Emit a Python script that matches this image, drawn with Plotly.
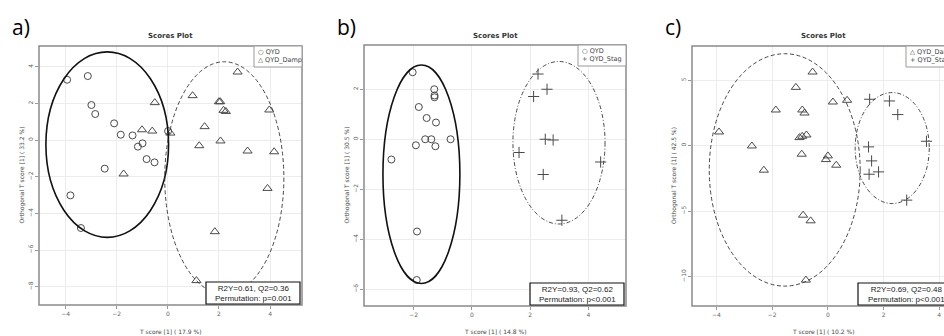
import plotly.graph_objects as go

W, H = 944, 336

# ---------------- panel a: QYD vs QYD_Damp ----------------
a_qyd_x = [-3.94, -3.13, -2.99, -2.84, -2.10, -1.84, -1.38, -1.17, -0.99, -0.83, -0.52, -2.47, -3.81, -3.40, 0.01]
a_qyd_y = [3.29, 3.49, 1.91, 1.42, 0.91, 0.29, 0.25, -0.36, -0.18, -1.04, -1.22, -1.56, -3.02, -4.80, 0.49]
a_damp_x = [-0.51, -1.01, -0.61, -1.73, 0.10, 0.97, 1.44, 1.23, 2.00, 2.05, 2.18, 2.27, 2.73, 2.06, 3.12, 3.97, 4.16, 3.90, 1.84, 1.12]
a_damp_y = [2.04, 0.56, 0.49, -1.85, 0.38, 2.42, 0.73, -0.31, 2.09, 2.09, 1.62, 1.56, 3.71, -0.05, -0.60, 1.64, -0.64, -2.64, -5.00, -7.67]

# ---------------- panel b: QYD vs QYD_Stag ----------------
b_qyd_x = [-2.03, -1.29, -1.28, -1.28, -1.82, -1.55, -1.23, -1.60, -1.39, -1.92, -1.25, -0.73, -2.76, -1.88, -1.89]
b_qyd_y = [2.68, 2.00, 1.75, 1.68, 1.29, 0.85, 0.67, 0.00, 0.00, -0.24, -0.28, 0.00, -0.81, -3.69, -5.63]
b_stag_x = [2.27, 2.58, 2.12, 2.52, 2.79, 1.62, 2.45, 4.42, 3.09]
b_stag_y = [2.61, 2.00, 1.71, 0.00, -0.03, -0.53, -1.41, -0.91, -3.24]

# ---------------- panel c: QYD_Damp vs QYD_Stag ----------------
c_damp_x = [-0.55, -1.15, -1.87, -0.92, -0.84, 0.18, 0.69, -3.91, -2.73, -2.30, -1.02, -0.92, -0.77, -0.94, 0.00, -0.07, 0.30, -0.89, -0.62, -0.79]
c_damp_y = [5.62, 4.45, 2.72, 2.72, 2.49, 3.33, 3.46, 1.04, -0.03, -1.88, 0.61, 0.71, 0.81, -0.66, -0.79, -1.07, -1.50, -5.32, -5.75, -10.28]
c_stag_x = [1.50, 2.21, 2.51, 3.54, 1.46, 1.57, 1.48, 1.82, 2.83]
c_stag_y = [3.54, 3.41, 2.37, 0.33, -0.10, -1.17, -2.19, -2.01, -4.17]

# confidence ellipses: (centre x, centre y, half-width, half-height)
ell_a_qyd = [-2.37, -0.25, 2.40, 5.06]
ell_a_damp = [2.21, -2.07, 2.33, 6.34]
ell_b_qyd = [-1.73, -1.40, 1.32, 4.37]
ell_b_stag = [2.99, -0.14, 1.58, 3.25]
ell_c_damp = [-1.55, -1.86, 2.71, 8.88]
ell_c_stag = [2.31, -0.19, 1.33, 4.24]

panel_labels = ["a)", "b)", "c)"]
x_titles = ["T score [1] ( 17.9 %)", "T score [1] ( 14.8 %)", "T score [1] ( 10.2 %)"]
y_titles = ["Orthogonal T score [1] ( 33.2 %)", "Orthogonal T score [1] ( 30.5 %)", "Orthogonal T score [1] ( 42.5 %)"]
stats_lines = [["R2Y=0.61, Q2=0.36", "Permutation: p=0.001"],
               ["R2Y=0.93, Q2=0.62", "Permutation: p<0.001"],
               ["R2Y=0.69, Q2=0.48", "Permutation: p<0.001"]]
legend_lines = [["\u25cb QYD", "\u25b3 QYD_Damp"],
                ["\u25cb QYD", "+ QYD_Stag"],
                ["\u25b3 QYD_Damp", "+ QYD_Stag"]]

x_ticks = [[-4, -2, 0, 2, 4], [-2, 0, 2, 4], [-4, -2, 0, 2, 4]]
y_ticks = [[4, 2, 0, -2, -4, -6, -8], [2, 0, -2, -4, -6], [5, 0, -5, -10]]
x_ranges = [[-5.04, 5.25], [-3.70, 5.29], [-4.88, 4.17]]
y_ranges = [[-9.0, 5.13], [-6.67, 3.77], [-12.26, 7.61]]

# pixel layout of each plotting frame (left, right, top, bottom)
frames = [(39, 302, 46, 305), (364, 626, 45, 306), (692, 944, 46, 306)]
frame_right_ext = [302, 626, 954]

DASH = "4px,2.5px"
DASHDOT = "4px,2px,1px,2px"


def px(x):
    return x / W


def py(y):
    return 1 - y / H


MK = "#4a4a4a"
fig = go.Figure()


def add_points(xs, ys, sym, size, ax):
    fig.add_trace(go.Scatter(
        x=xs, y=ys, mode="markers", showlegend=False, hoverinfo="skip",
        xaxis="x" + ax, yaxis="y" + ax, cliponaxis=False,
        marker=dict(symbol=sym, size=size, color=MK, line=dict(color=MK, width=1))))


add_points(a_qyd_x, a_qyd_y, "circle-open", 7, "")
add_points(a_damp_x, a_damp_y, "triangle-up-open", 8, "")
add_points(b_qyd_x, b_qyd_y, "circle-open", 7, "2")
add_points(b_stag_x, b_stag_y, "cross-thin-open", 8, "2")
add_points(c_damp_x, c_damp_y, "triangle-up-open", 8, "3")
add_points(c_stag_x, c_stag_y, "cross-thin-open", 8, "3")

shapes = []
annotations = []


def ellipse(p, ax, dash, width, color):
    cx, cy, a, b = p
    shapes.append(dict(type="circle", xref="x" + ax, yref="y" + ax,
                       x0=cx - a, x1=cx + a, y0=cy - b, y1=cy + b,
                       line=dict(color=color, width=width, dash=dash), layer="above"))


ellipse(ell_a_qyd, "", "solid", 1.6, "#111")
ellipse(ell_a_damp, "", DASH, 0.9, "#333")
ellipse(ell_b_qyd, "2", "solid", 1.6, "#111")
ellipse(ell_b_stag, "2", DASHDOT, 0.9, "#333")
ellipse(ell_c_damp, "3", DASH, 0.9, "#333")
ellipse(ell_c_stag, "3", DASHDOT, 0.9, "#333")

axes = {}
for i, (l, r, t, b) in enumerate(frames):
    suf = "" if i == 0 else str(i + 1)
    common = dict(showline=False, zeroline=False, showgrid=True, gridcolor="#ececec", gridwidth=1,
                  ticks="outside", ticklen=3, tickcolor="#999", tickwidth=1,
                  tickfont=dict(family="DejaVu Sans", size=6, color="#666"))
    axes["xaxis" + suf] = dict(common, domain=[px(l), px(r)], range=x_ranges[i],
                               tickvals=x_ticks[i], anchor="y" + suf)
    axes["yaxis" + suf] = dict(common, domain=[py(b), py(t)], range=y_ranges[i],
                               tickvals=y_ticks[i], tickangle=-90, anchor="x" + suf)
    xr = frame_right_ext[i]
    # plotting frame
    shapes.append(dict(type="rect", xref="paper", yref="paper", x0=px(l), x1=px(xr), y0=py(b), y1=py(t),
                       line=dict(color="#8a8a8a", width=1.5), layer="above"))
    # legend box
    lg_l = xr - 48
    shapes.append(dict(type="rect", xref="paper", yref="paper", x0=px(lg_l), x1=px(xr), y0=py(t + 21), y1=py(t),
                       line=dict(color="#999", width=1), fillcolor="white", layer="above"))
    annotations.append(dict(xref="paper", yref="paper", x=px(lg_l + 2), y=py(t + 10.5), xanchor="left",
                            yanchor="middle", showarrow=False, align="left",
                            text="<br>".join(legend_lines[i]),
                            font=dict(family="DejaVu Sans", size=6.5, color="#444")))
    # statistics box
    sb_l = xr - 96 if i < 2 else 858
    sb_r = xr - 2 if i < 2 else 960
    shapes.append(dict(type="rect", xref="paper", yref="paper", x0=px(sb_l), x1=px(sb_r), y0=py(b - 1), y1=py(b - 23),
                       line=dict(color="#111", width=1.2), fillcolor="white", layer="above"))
    annotations.append(dict(xref="paper", yref="paper", x=px((sb_l + (xr - 2 if i < 2 else 954)) / 2),
                            y=py(b - 12), xanchor="center", yanchor="middle", showarrow=False,
                            text="<br>".join(stats_lines[i]),
                            font=dict(family="Liberation Sans", size=8, color="#222")))
    # titles and labels
    cxp = (l + xr) / 2
    annotations.append(dict(xref="paper", yref="paper", x=px(cxp), y=py(36), showarrow=False,
                            xanchor="center", yanchor="middle", text="<b>Scores Plot</b>",
                            font=dict(family="DejaVu Sans", size=7, color="#333")))
    annotations.append(dict(xref="paper", yref="paper", x=px(cxp), y=py(331), showarrow=False,
                            xanchor="center", yanchor="middle", text=x_titles[i],
                            font=dict(family="DejaVu Sans", size=6, color="#444")))
    annotations.append(dict(xref="paper", yref="paper", x=px(l - 18), y=py((t + b) / 2), showarrow=False,
                            xanchor="center", yanchor="middle", text=y_titles[i], textangle=-90,
                            font=dict(family="DejaVu Sans", size=6, color="#444")))
    annotations.append(dict(xref="paper", yref="paper", x=px(l - 29), y=py(27), showarrow=False,
                            xanchor="left", yanchor="middle", text=panel_labels[i],
                            font=dict(family="Open Sans", size=21, color="#000")))

fig.update_layout(
    width=W, height=H, margin=dict(l=0, r=0, t=0, b=0),
    paper_bgcolor="white", plot_bgcolor="white", showlegend=False,
    shapes=shapes, annotations=annotations, **axes)

fig.write_html("out.html")
